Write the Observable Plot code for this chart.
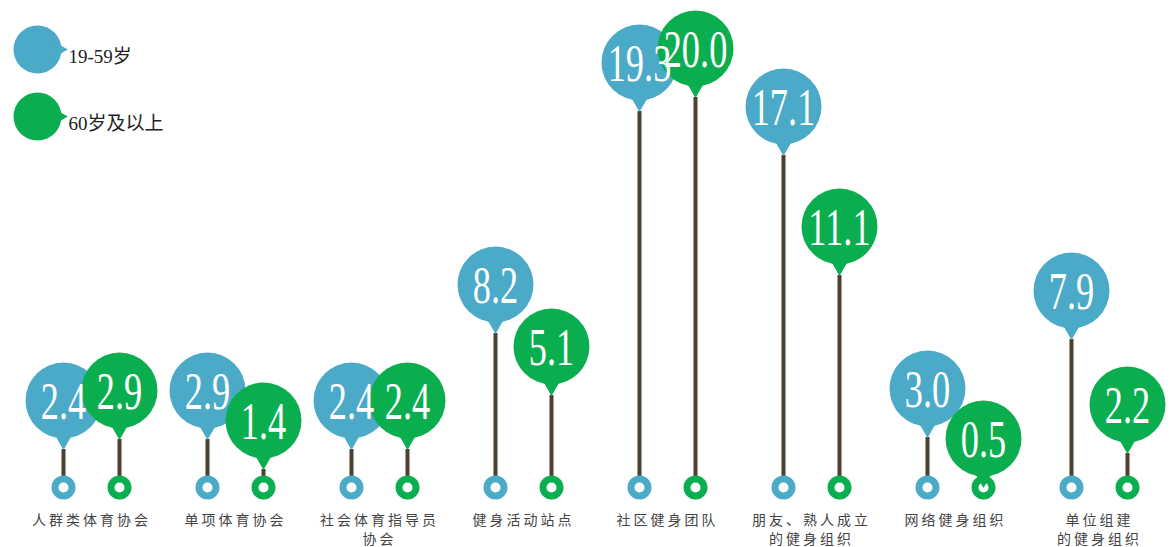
<!DOCTYPE html>
<html>
<head>
<meta charset="utf-8">
<script src="https://cdn.jsdelivr.net/npm/d3@7"></script>
<script src="https://cdn.jsdelivr.net/npm/@observablehq/plot@0.6"></script>
<style>
  html, body { margin: 0; padding: 0; background: #fff; }
  #chart { width: 1172px; height: 547px; overflow: hidden; }
</style>
</head>
<body>
<div id="chart"></div>
<script>
// ---- data ----
const categories = ["人群类体育协会", "单项体育协会", "社会体育指导员协会", "健身活动站点", "社区健身团队", "朋友、熟人成立的健身组织", "网络健身组织", "单位组建的健身组织"];
const categoryLabels = ["人群类体育协会", "单项体育协会", "社会体育指导员\n协会", "健身活动站点", "社区健身团队", "朋友、熟人成立\n的健身组织", "网络健身组织", "单位组建\n的健身组织"];
const seriesNames = ["19-59岁", "60岁及以上"];
const age19to59 = [2.4, 2.9, 2.4, 8.2, 19.3, 17.1, 3.0, 7.9];
const age60plus = [2.9, 1.4, 2.4, 5.1, 20.0, 11.1, 0.5, 2.2];
const seriesColors = ["#4aaac8", "#0bae4e"];
const stemColor = "#4b412f";

const seriesValues = [age19to59, age60plus];
const seriesData = seriesValues.map((vals, s) =>
  categories.map((c, i) => ({category: c, value: vals[i], series: seriesNames[s]}))
);
const labelData = categories.map((c, i) => ({category: c, label: categoryLabels[i]}));

const offsets = [-28, 28];
const stems = [], bubbles = [], texts = [];
seriesData.forEach((data, s) => {
  const color = seriesColors[s];
  const dx = offsets[s];
  stems.push(
    Plot.ruleX(data, {x: "category", y1: 0, y2: "value", dx, stroke: stemColor, strokeWidth: 4}),
    Plot.dot(data, {x: "category", y: 0, dx, dy: -10, r: 8.5, fill: "white", stroke: color, strokeWidth: 7})
  );
  bubbles.push(
    Plot.dot(data, {x: "category", y: "value", dx, dy: -12, r: 8, symbol: "triangle", rotate: 180, fill: color, stroke: "none"}),
    Plot.dot(data, {x: "category", y: "value", dx, dy: -49, r: 38, fill: color, stroke: "none"})
  );
  texts.push(
    Plot.text(data, {x: "category", y: "value", dx, dy: -47, text: d => d.value.toFixed(1), fill: "white",
      fontSize: 52, fontFamily: "Liberation Serif, DejaVu Serif, serif", textAnchor: "middle", lineAnchor: "middle"})
  );
});

const marks = [...stems, ...bubbles, ...texts];

// category labels
marks.push(Plot.text(labelData, {x: "category", y: 0, dy: 14, text: "label", lineAnchor: "top", lineHeight: 1.35,
  fontSize: 14, fill: "#444", fontFamily: "Noto Sans CJK SC, sans-serif"}));

// legend
const legendY = [49, 116];
seriesNames.forEach((name, s) => {
  marks.push(
    Plot.dot([name], {frameAnchor: "top-left", dx: 37, dy: legendY[s], r: 24, fill: seriesColors[s]}),
    Plot.dot([name], {frameAnchor: "top-left", dx: 58, dy: legendY[s], r: 6, symbol: "triangle", rotate: 90, fill: seriesColors[s]}),
    Plot.text([name], {frameAnchor: "top-left", dx: 68, dy: legendY[s], text: d => d, textAnchor: "start", fontSize: 19,
      fill: "#222", fontFamily: "Liberation Serif, Noto Sans CJK SC, serif"})
  );
});

const chart = Plot.plot({
  width: 1172,
  height: 547,
  margin: 0,
  style: {background: "white", overflow: "visible"},
  x: {type: "point", domain: categories, range: [88, 1102], padding: 0, axis: null},
  y: {domain: [0, 20], range: [497, 97], axis: null},
  marks
});
document.getElementById("chart").appendChild(chart);

// condense the value numerals horizontally (narrow serif look)
d3.select(chart).selectAll("text").each(function() {
  if (/^\d+\.\d$/.test(this.textContent.trim())) {
    let t = this.getAttribute("transform");
    if (!t) {
      const x = +this.getAttribute("x") || 0, y = +this.getAttribute("y") || 0;
      this.removeAttribute("x"); this.removeAttribute("y");
      t = `translate(${x},${y})`;
    }
    this.setAttribute("transform", t + " scale(0.7,1)");
  }
});
// letter-spacing on category labels
d3.select(chart).selectAll('g[font-size="14"] text, g[font-size="14"] tspan').style("letter-spacing", "3px");
</script>
</body>
</html>
